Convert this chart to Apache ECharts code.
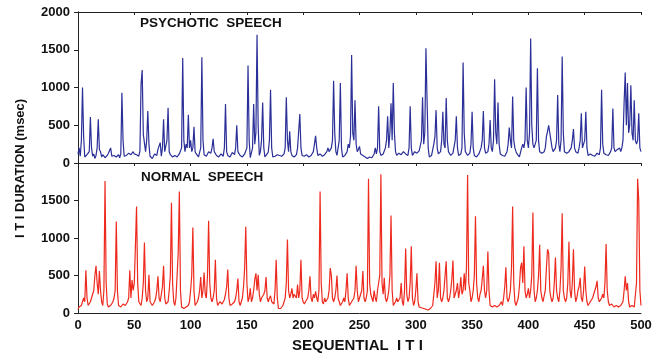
<!DOCTYPE html>
<html>
<head>
<meta charset="utf-8">
<script src="https://cdn.jsdelivr.net/npm/echarts@6/dist/echarts.min.js"></script>
<style>
  html, body { margin: 0; padding: 0; background: #fff; }
  #chart { width: 667px; height: 354px; }
</style>
</head>
<body>
<div id="chart"></div>
<script>
// [sequential ITI, ITI duration in msec]
const psychotic = [
  [0,120],[1,200],[2,90],[3,300],[4,1000],[5,350],[6,80],[7,60],[8,110],[9,90],[10,150],[11,610],[12,200],[13,90],[14,120],[15,60],[16,100],[17,200],[18,580],[19,180],[20,150],[21,80],[22,110],[24,70],[26,100],[27,130],[29,200],[30,90],[32,100],[34,80],[36,110],[37,70],[38,120],[39,930],[40,300],[41,90],[43,100],[45,130],[47,110],[49,150],[50,120],[52,110],[54,90],[55,160],[56,1050],[57,1230],[58,380],[59,360],[60,150],[61,300],[62,690],[63,250],[64,90],[66,60],[68,120],[70,100],[71,180],[72,160],[73,270],[74,90],[75,200],[76,580],[77,150],[79,300],[80,730],[81,150],[82,110],[84,80],[86,100],[88,80],[90,120],[92,200],[93,1390],[94,300],[95,150],[96,250],[97,200],[98,640],[99,200],[100,300],[101,150],[102,200],[103,480],[104,150],[105,120],[107,80],[108,100],[109,200],[110,1400],[111,300],[112,110],[114,90],[116,150],[118,130],[119,200],[120,320],[121,150],[123,100],[125,80],[127,120],[129,90],[130,200],[131,780],[132,150],[133,100],[135,80],[137,140],[139,110],[140,200],[141,500],[142,150],[144,100],[146,80],[148,120],[150,200],[151,1290],[152,300],[153,70],[154,60],[155,200],[156,780],[157,250],[158,400],[159,1700],[160,500],[161,100],[162,150],[163,300],[164,800],[165,200],[166,80],[168,120],[169,150],[170,300],[171,970],[172,200],[173,80],[175,90],[177,110],[179,100],[181,90],[183,120],[184,200],[185,870],[186,300],[187,150],[188,420],[189,150],[190,100],[192,80],[194,110],[195,200],[196,200],[197,650],[198,200],[199,100],[201,90],[203,110],[205,80],[207,100],[209,150],[210,250],[211,360],[212,200],[213,100],[215,120],[217,90],[219,110],[221,150],[222,200],[223,150],[224,130],[225,200],[226,300],[227,1090],[228,400],[229,150],[230,100],[231,200],[232,300],[233,1060],[234,200],[235,80],[237,100],[239,150],[240,250],[241,200],[242,350],[243,1430],[244,400],[245,300],[246,830],[247,250],[248,150],[249,180],[250,220],[251,120],[253,100],[255,80],[257,60],[259,80],[261,70],[263,120],[264,200],[265,120],[266,200],[267,750],[268,150],[269,100],[271,120],[273,200],[274,300],[275,620],[276,200],[277,400],[278,790],[279,300],[280,1060],[281,400],[282,150],[283,100],[285,130],[287,110],[289,150],[291,120],[293,100],[294,200],[295,750],[296,200],[297,100],[299,150],[301,130],[303,160],[304,150],[305,300],[306,870],[307,250],[308,400],[309,1520],[310,830],[311,200],[312,80],[314,100],[316,250],[317,350],[318,700],[319,200],[320,120],[322,150],[323,300],[324,680],[325,250],[326,200],[327,860],[328,300],[329,150],[331,100],[333,130],[334,150],[335,300],[336,620],[337,200],[338,100],[340,120],[341,200],[342,1330],[343,400],[344,150],[346,100],[348,130],[349,250],[350,680],[351,200],[352,100],[354,80],[356,120],[358,200],[359,300],[360,690],[361,200],[362,130],[364,150],[365,250],[366,570],[367,200],[368,150],[369,300],[370,1110],[371,400],[372,250],[373,800],[374,250],[375,120],[377,100],[379,90],[381,150],[382,250],[383,470],[384,300],[385,200],[386,880],[387,300],[388,200],[389,150],[390,120],[392,80],[394,200],[395,250],[396,200],[397,300],[398,1000],[399,300],[400,200],[401,400],[402,1650],[403,500],[404,250],[405,200],[406,250],[407,300],[408,1255],[409,300],[410,150],[412,130],[414,150],[415,200],[416,350],[417,420],[418,500],[419,500],[420,300],[421,200],[422,150],[424,200],[425,300],[426,900],[427,250],[428,150],[429,300],[430,1410],[431,400],[432,150],[434,130],[436,150],[438,200],[439,300],[440,450],[441,200],[442,150],[444,130],[445,200],[446,300],[447,660],[448,200],[449,250],[450,300],[451,680],[452,200],[453,100],[455,120],[457,100],[459,90],[461,130],[463,110],[464,200],[465,970],[466,250],[467,130],[469,110],[471,100],[473,150],[474,200],[475,720],[476,200],[477,150],[479,180],[481,200],[482,150],[483,200],[484,300],[485,800],[486,1200],[487,500],[488,1060],[489,400],[490,500],[491,1030],[492,400],[493,300],[494,830],[495,300],[496,250],[497,300],[498,660],[499,200],[500,150]
];

const normal = [
  [0,50],[1,80],[2,60],[3,100],[4,150],[5,200],[6,150],[7,570],[8,200],[9,100],[10,80],[11,150],[12,200],[13,180],[14,300],[15,500],[16,630],[17,400],[18,250],[19,560],[20,300],[21,150],[22,100],[23,300],[24,1760],[25,400],[26,120],[27,80],[29,100],[31,150],[32,200],[33,300],[34,1220],[35,300],[36,100],[38,80],[40,120],[42,100],[44,150],[45,200],[46,570],[47,200],[48,440],[49,300],[50,400],[51,900],[52,1420],[53,400],[54,150],[56,100],[57,200],[58,400],[59,940],[60,300],[61,150],[62,200],[63,510],[64,150],[66,100],[68,150],[69,200],[70,300],[71,490],[72,200],[73,150],[74,250],[75,350],[76,630],[77,200],[78,120],[80,150],[81,300],[82,500],[83,1470],[84,400],[85,150],[86,100],[87,200],[88,500],[89,800],[90,1620],[91,300],[92,80],[94,60],[96,80],[98,100],[99,150],[100,300],[101,500],[102,1140],[103,300],[104,100],[106,150],[107,200],[108,300],[109,480],[110,200],[111,300],[112,540],[113,250],[114,200],[115,500],[116,1230],[117,400],[118,200],[119,150],[120,200],[121,300],[122,710],[123,200],[124,100],[126,150],[128,120],[130,180],[131,250],[132,350],[133,580],[134,200],[135,100],[137,120],[139,150],[140,200],[141,300],[142,460],[143,150],[144,100],[146,200],[147,350],[148,600],[149,1150],[150,400],[151,150],[152,200],[153,330],[154,150],[155,200],[156,300],[157,450],[158,530],[159,300],[160,510],[161,250],[162,150],[163,200],[165,250],[166,300],[167,480],[168,200],[169,150],[170,200],[171,230],[172,150],[174,120],[175,300],[176,710],[177,200],[178,60],[179,40],[180,60],[182,100],[184,200],[185,400],[186,980],[187,300],[188,200],[189,250],[190,330],[191,200],[192,250],[194,200],[195,380],[196,200],[197,300],[198,710],[199,200],[200,150],[201,120],[202,150],[204,200],[205,300],[206,490],[207,200],[208,150],[209,250],[210,200],[211,290],[212,200],[213,150],[214,300],[215,1620],[216,400],[217,150],[218,120],[219,200],[220,150],[222,200],[223,300],[224,600],[225,500],[226,200],[227,150],[228,200],[229,300],[230,500],[231,200],[232,150],[233,100],[235,150],[236,200],[237,150],[238,300],[239,530],[240,200],[241,100],[243,150],[245,200],[246,300],[247,630],[248,300],[249,150],[250,200],[251,250],[252,300],[253,560],[254,200],[255,150],[256,200],[257,300],[258,1790],[259,400],[260,250],[261,200],[262,150],[263,300],[264,200],[265,150],[266,300],[267,400],[268,500],[269,1850],[270,400],[271,250],[272,470],[273,200],[274,150],[275,200],[276,300],[277,500],[278,1300],[279,300],[280,100],[282,150],[283,200],[284,150],[286,200],[287,400],[288,150],[289,100],[290,300],[291,860],[292,250],[293,150],[294,200],[295,400],[296,890],[297,200],[298,100],[299,150],[300,300],[301,530],[302,150],[303,80],[305,70],[307,60],[309,50],[311,40],[313,60],[315,100],[316,250],[317,400],[318,690],[319,200],[320,300],[321,670],[322,200],[323,150],[324,200],[325,300],[326,500],[327,690],[328,200],[329,150],[330,200],[331,300],[332,450],[333,700],[334,200],[335,250],[336,300],[337,400],[338,200],[339,300],[340,480],[341,250],[342,300],[343,530],[344,300],[345,600],[346,1840],[347,400],[348,300],[349,150],[350,200],[351,300],[352,500],[353,1290],[354,400],[355,200],[356,150],[357,250],[358,300],[359,450],[360,630],[361,300],[362,200],[363,300],[364,820],[365,300],[366,100],[368,80],[370,100],[372,80],[374,100],[376,150],[377,100],[378,200],[379,350],[380,610],[381,200],[382,150],[383,200],[384,300],[385,600],[386,1420],[387,400],[388,150],[389,100],[390,150],[391,200],[392,350],[393,600],[394,670],[395,400],[396,890],[397,300],[398,200],[399,250],[400,330],[401,200],[402,300],[403,500],[404,1340],[405,300],[406,150],[407,200],[408,300],[409,500],[410,910],[411,300],[412,200],[413,150],[414,230],[415,300],[416,600],[417,850],[418,800],[419,300],[420,200],[421,150],[422,200],[423,400],[424,740],[425,300],[426,200],[427,150],[428,300],[429,600],[430,1330],[431,300],[432,200],[433,150],[434,200],[435,400],[436,950],[437,300],[438,200],[439,400],[440,850],[441,300],[442,150],[443,200],[444,300],[445,350],[446,470],[447,200],[448,150],[449,300],[450,620],[451,300],[452,150],[453,100],[455,150],[457,200],[458,250],[459,300],[460,350],[461,430],[462,200],[463,150],[465,200],[466,250],[467,200],[468,400],[469,920],[470,300],[471,150],[472,100],[474,120],[476,80],[478,100],[480,80],[482,100],[484,150],[485,300],[486,490],[487,300],[488,400],[489,150],[490,80],[492,100],[494,80],[495,100],[496,400],[497,1790],[498,1500],[499,300],[500,100]
];

const xTicks = [0, 50, 100, 150, 200, 250, 300, 350, 400, 450, 500];
const yTicks = [0, 500, 1000, 1500, 2000];

const font = 'Liberation Sans';
const lbl = { fontFamily: font, fontWeight: 'bold', fontSize: 13, color: '#111' };
const blk = { lineStyle: { color: '#222', width: 1 } };

function xAx(grid, labels, pos) {
  return {
    type: 'value', gridIndex: grid, position: pos, min: 0, max: 500, interval: 50,
    axisLine: { show: true, onZero: false, lineStyle: blk.lineStyle },
    axisTick: { show: pos === 'top', inside: true, length: 3, lineStyle: blk.lineStyle },
    axisLabel: { show: labels, margin: 6, ...lbl, formatter: v => xTicks.includes(v) ? v : '' },
    splitLine: { show: false }
  };
}

function yAx(grid, pos, hideTop) {
  return {
    type: 'value', gridIndex: grid, position: pos, min: 0, max: 2000, interval: 500,
    axisLine: { show: true, lineStyle: blk.lineStyle },
    axisTick: { show: pos === 'right', inside: true, length: 4, lineStyle: blk.lineStyle },
    axisLabel: {
      show: pos === 'left', margin: 8, ...lbl,
      formatter: v => (hideTop && v === 2000) || !yTicks.includes(v) ? '' : v
    },
    splitLine: { show: false }
  };
}

const chart = echarts.init(document.getElementById('chart'), null, { renderer: 'canvas' });

chart.setOption({
  animation: false,
  backgroundColor: '#fff',
  grid: [
    { left: 78, right: 26, top: 12, height: 151 },
    { left: 78, right: 26, top: 163, height: 150 }
  ],
  xAxis: [
    xAx(0, false, 'bottom'), xAx(0, false, 'top'),
    xAx(1, true, 'bottom'), xAx(1, false, 'top')
  ],
  yAxis: [
    yAx(0, 'left', false), yAx(0, 'right', false),
    yAx(1, 'left', true), yAx(1, 'right', true)
  ],
  graphic: [
    { type: 'text', left: 140, top: 16, style: { text: 'PSYCHOTIC  SPEECH', fontFamily: font, fontWeight: 'bold', fontSize: 13.5, fill: '#111' } },
    { type: 'text', left: 141, top: 170, style: { text: 'NORMAL  SPEECH', fontFamily: font, fontWeight: 'bold', fontSize: 13.5, fill: '#111' } },
    { type: 'text', left: 292, top: 338, style: { text: 'SEQUENTIAL  I T I', fontFamily: font, fontWeight: 'bold', fontSize: 15, fill: '#111' } },
    {
      type: 'text', x: 14, y: 238, rotation: Math.PI / 2,
      style: { text: 'I T I DURATION (msec)', fontFamily: font, fontWeight: 'bold', fontSize: 13, fill: '#111' }
    }
  ],
  series: [
    {
      type: 'line', xAxisIndex: 0, yAxisIndex: 0, data: psychotic,
      showSymbol: false, lineStyle: { color: '#2b2f98', width: 1.2 }
    },
    {
      type: 'line', xAxisIndex: 2, yAxisIndex: 2, data: normal,
      showSymbol: false, lineStyle: { color: '#ee2a1e', width: 1.2 }
    }
  ]
});
</script>
</body>
</html>
